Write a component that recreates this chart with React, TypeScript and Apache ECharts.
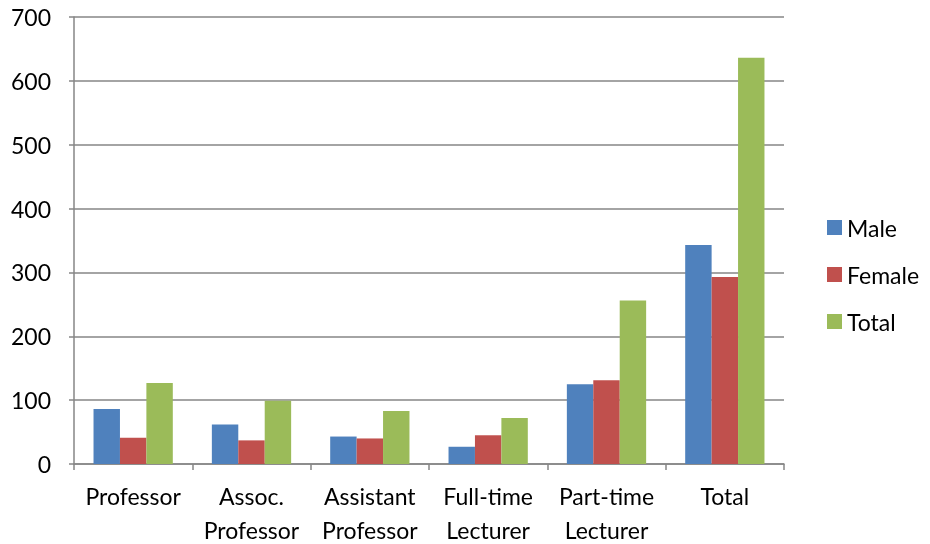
import React, { useEffect, useRef } from "react";
import * as echarts from "echarts";

const categories = ["Professor", "Assoc.\nProfessor", "Assistant\nProfessor", "Full-time\nLecturer", "Part-time\nLecturer", "Total"];
const maleValues = [86, 62, 43, 27, 125, 343];
const femaleValues = [41, 37, 40, 45, 131, 293];
const totalValues = [127, 99, 83, 72, 256, 636];
const seriesNames = ["Male", "Female", "Total"];
const colors = ["#4F81BD", "#C0504D", "#9BBB59"];

export default function App() {
  const ref = useRef<HTMLDivElement>(null);
  useEffect(() => {
    if (!ref.current) return;
    const chart = echarts.init(ref.current, undefined, { renderer: "svg" });
    const font = "Lato, 'Liberation Sans', sans-serif";
    const mk = (name: string, data: number[], color: string) => ({
      name,
      type: "bar",
      data,
      barGap: "0%",
      barCategoryGap: "33%",
      itemStyle: { color },
    });
    chart.setOption({
      animation: false,
      textStyle: { fontFamily: font },
      grid: { left: 74, right: 146, top: 17, bottom: 80, containLabel: false, outerBoundsMode: "none" },
      legend: {
        orient: "vertical",
        left: 822,
        top: 211,
        itemWidth: 15,
        itemHeight: 15,
        itemGap: 24,
        icon: "rect",
        textStyle: { fontSize: 23, color: "#000", fontFamily: font },
        data: seriesNames,
      },
      xAxis: {
        type: "category",
        data: categories,
        axisLine: { lineStyle: { color: "#868686", width: 1.5 } },
        axisTick: { show: true, length: 6, lineStyle: { color: "#868686", width: 1.5 } },
        axisLabel: { fontSize: 23, color: "#000", margin: 15, lineHeight: 34, fontFamily: font, interval: 0 },
      },
      yAxis: {
        type: "value",
        min: 0,
        max: 700,
        interval: 100,
        axisLine: { show: true, lineStyle: { color: "#868686", width: 1.5 } },
        axisTick: { show: true, length: 5, lineStyle: { color: "#868686", width: 1.5 } },
        splitLine: { lineStyle: { color: "#868686", width: 1.5 } },
        axisLabel: { fontSize: 23, color: "#000", margin: 23, fontFamily: font },
      },
      series: [
        mk(seriesNames[0], maleValues, colors[0]),
        mk(seriesNames[1], femaleValues, colors[1]),
        mk(seriesNames[2], totalValues, colors[2]),
      ],
    });
    return () => chart.dispose();
  }, []);
  return <div ref={ref} style={{ position: "fixed", left: 0, top: 0, width: 930, height: 544 }} />;
}
